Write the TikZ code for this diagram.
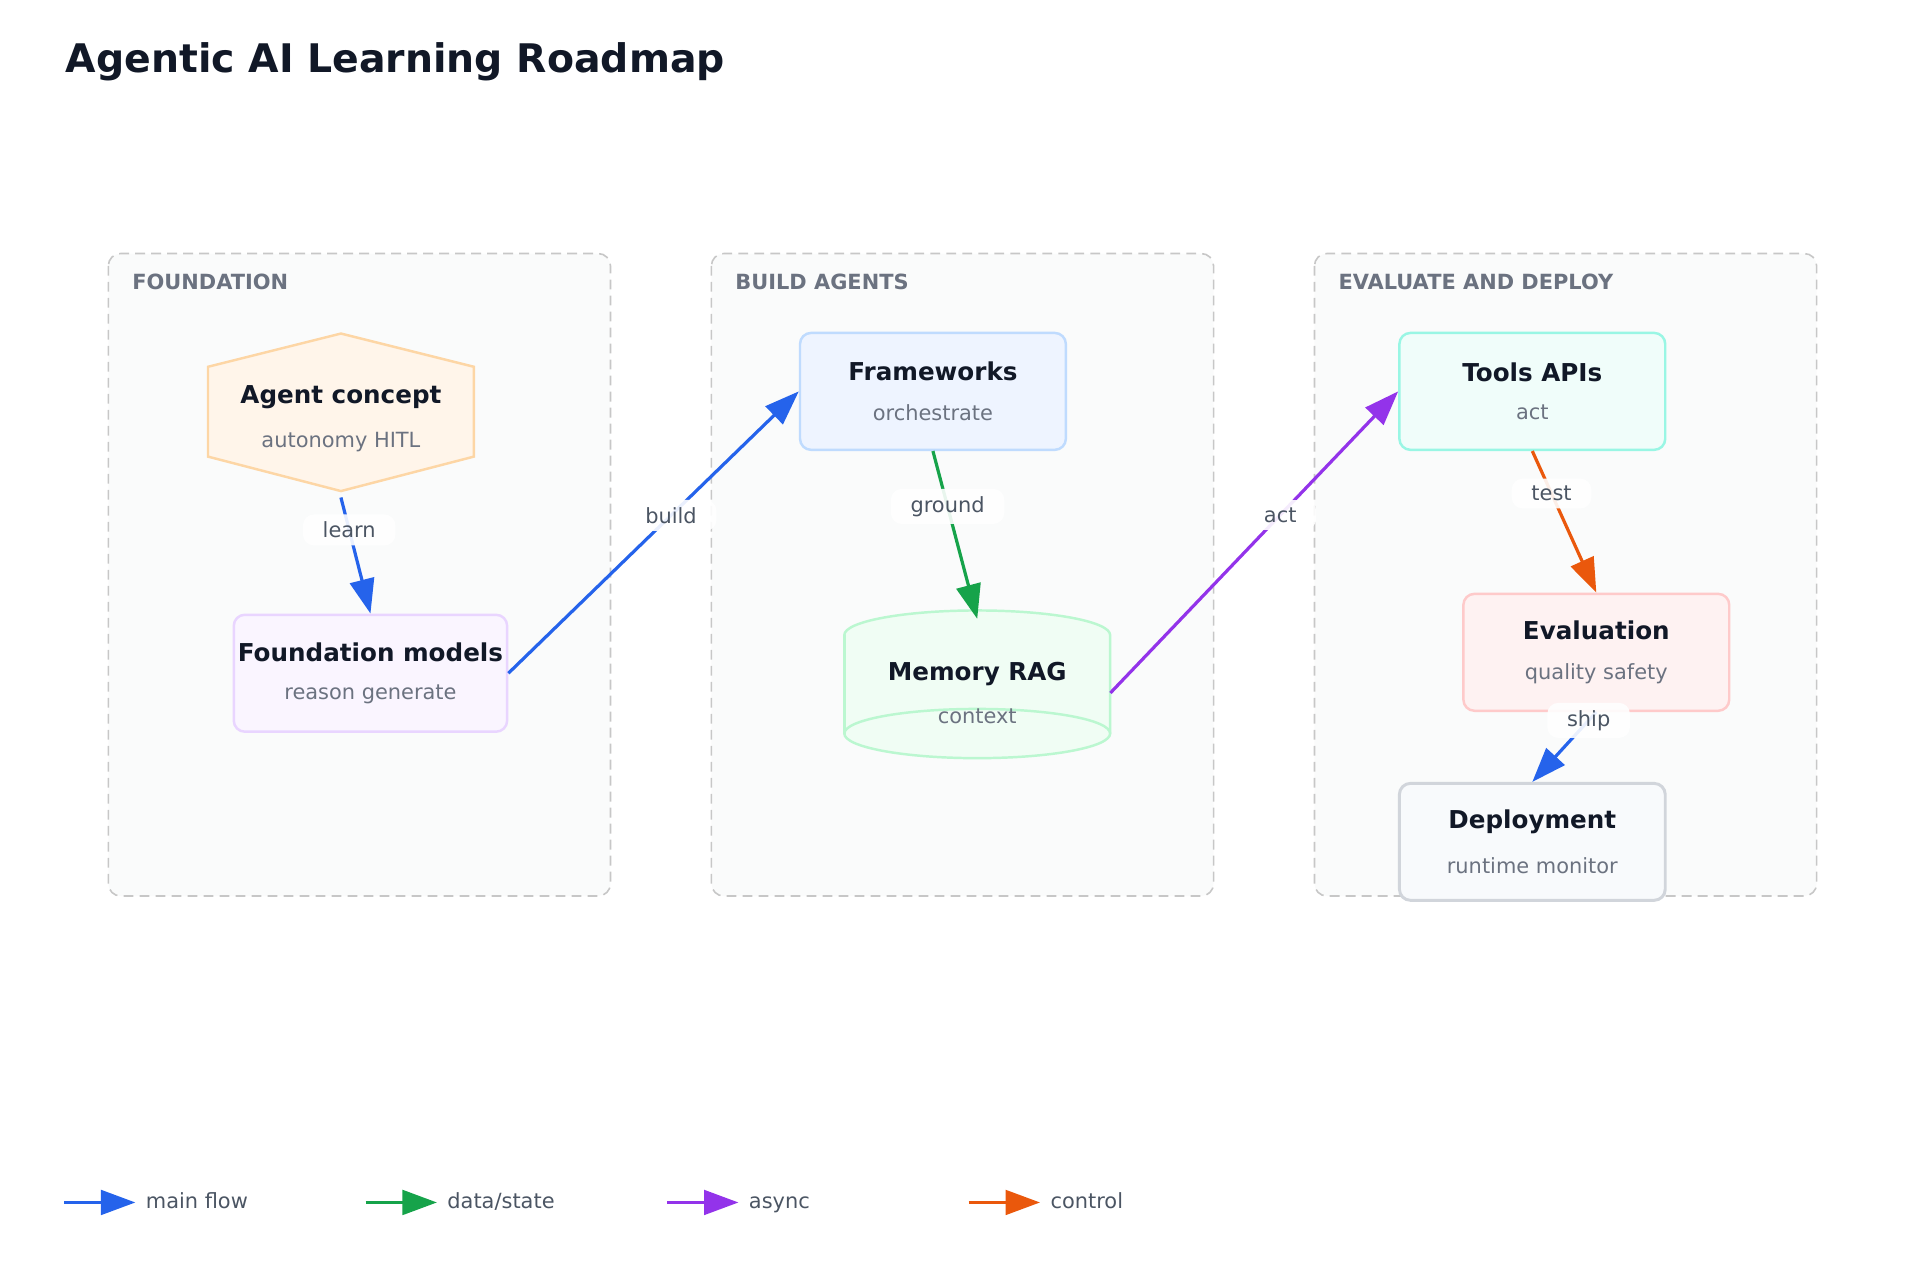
\documentclass[tikz,border=0pt]{standalone}
\usepackage{fontspec}
\setmainfont{DejaVu Sans}
\usepackage{xcolor}
\usetikzlibrary{arrows.meta,positioning,shapes.geometric}
\definecolor{ink}{HTML}{111827}
\definecolor{muted}{HTML}{6B7280}
\definecolor{sub}{HTML}{4B5563}
\definecolor{mainc}{HTML}{2563EB}
\definecolor{datac}{HTML}{16A34A}
\definecolor{asyncc}{HTML}{9333EA}
\definecolor{ctrlc}{HTML}{EA580C}
\definecolor{fwfill}{HTML}{EEF4FF}
\definecolor{fwdraw}{HTML}{BFDBFE}
\definecolor{tlfill}{HTML}{F0FDFA}
\definecolor{tldraw}{HTML}{99F6E4}
\definecolor{fmfill}{HTML}{FAF5FF}
\definecolor{fmdraw}{HTML}{E9D5FF}
\definecolor{evfill}{HTML}{FEF2F2}
\definecolor{evdraw}{HTML}{FECACA}
\definecolor{dpfill}{HTML}{F8FAFC}
\definecolor{dpdraw}{HTML}{D1D5DB}
\definecolor{mmfill}{HTML}{F0FDF4}
\definecolor{mmdraw}{HTML}{BBF7D0}
\definecolor{hxfill}{HTML}{FFF5EA}
\definecolor{hxdraw}{HTML}{FDD6A5}
\definecolor{grfill}{HTML}{FAFBFB}
\newcommand{\ttl}[1]{{\fontsize{20}{24}\selectfont\bfseries #1}}
\newcommand{\sbt}[1]{{\fontsize{17}{20}\selectfont\color{muted}#1}}
\begin{document}
\begin{tikzpicture}[
    x=1pt, y=-1pt,
    group/.style={draw=black!22, dash pattern=on 8pt off 5pt, line width=1.3pt, fill=grfill, rounded corners=10pt},
    grouplabel/.style={anchor=west, text=muted, font=\fontsize{17}{20}\selectfont\bfseries},
    box/.style={rectangle, rounded corners=9pt, minimum width=216pt, minimum height=95pt, line width=2pt, align=center, text=ink},
    ghost/.style={minimum width=216pt, minimum height=#1, inner sep=0pt},
    arrow/.style={line width=2.6pt, -{Triangle[length=28pt, width=20pt]}},
    elabel/.style={fill=white, fill opacity=0.9, text opacity=1, rounded corners=9pt, text=sub, inner xsep=16pt, inner ysep=6pt, font=\fontsize{17}{20}\selectfont}
]
\useasboundingbox (0,0) rectangle (1560,1040);
\node (title) [anchor=west, text=ink, font=\fontsize{32}{36}\selectfont\bfseries] at (50,50) {Agentic AI Learning Roadmap};

% groups
\draw [group] (88,206) rectangle (496,728);
\draw [group] (578,206) rectangle (986,728);
\draw [group] (1068,206) rectangle (1476,728);
\node (g1) [grouplabel] at (104,229) {FOUNDATION};
\node (g2) [grouplabel] at (594,229) {BUILD AGENTS};
\node (g3) [grouplabel] at (1084,229) {EVALUATE AND DEPLOY};

% hexagon
\draw [fill=hxfill, draw=hxdraw, line width=2pt] (277,271) -- (385,298) -- (385,371) -- (277,399) -- (169,371) -- (169,298) -- cycle;
\node (agent) [ghost=128pt, align=center, text=ink] at (277,340) {\ttl{Agent concept}\\[18pt]\sbt{autonomy HITL}};

\node (fm) [box, fill=fmfill, draw=fmdraw] at (301,547) {\ttl{Foundation models}\\[18pt]\sbt{reason generate}};
\node (fw) [box, fill=fwfill, draw=fwdraw] at (758,318) {\ttl{Frameworks}\\[18pt]\sbt{orchestrate}};
\node (tools) [box, fill=tlfill, draw=tldraw] at (1245,318) {\ttl{Tools APIs}\\[18pt]\sbt{act}};
\node (eval) [box, fill=evfill, draw=evdraw] at (1297,530) {\ttl{Evaluation}\\[18pt]\sbt{quality safety}};
\node (dep) [box, fill=dpfill, draw=dpdraw, line width=2.4pt] at (1245,684) {\ttl{Deployment}\\[18pt]\sbt{runtime monitor}};

% cylinder
\fill [mmfill] (686,516) rectangle (902,596);
\fill [mmfill] (794,596) ellipse [x radius=108pt, y radius=20pt];
\fill [mmfill] (794,516) ellipse [x radius=108pt, y radius=20pt];
\draw [mmdraw, line width=2pt] (686,516) arc [start angle=180, end angle=0, x radius=108pt, y radius=20pt] -- (902,596);
\draw [mmdraw, line width=2pt] (686,516) -- (686,596);
\draw [mmdraw, line width=2pt] (794,596) ellipse [x radius=108pt, y radius=20pt];
\node (mem) [ghost=120pt, align=center, text=ink] at (794,563) {\ttl{Memory RAG}\\[18pt]\sbt{context}};

% connectors
\draw [arrow, mainc] (agent.south) -- (fm.north) node (lblearn) [elabel, pos=0.28] {learn};
\draw [arrow, mainc] (fm.east) -- (fw.west) node (lblbuild) [elabel, pos=0.56] {build};
\draw [arrow, datac] (fw.south) -- (mem.north) node (lblground) [elabel, pos=0.33] {ground};
\draw [arrow, asyncc] (mem.east) -- (tools.west) node (lblact) [elabel, pos=0.59] {act};
\draw [arrow, ctrlc] (tools.south) -- (eval.north) node (lbltest) [elabel, pos=0.3] {test};
\draw [arrow, mainc] (eval.south) -- (dep.north) node (lblship) [elabel, pos=0.12] {ship};

% legend
\foreach \lx/\col/\txt [count=\i] in {52/mainc/main flow, 297/datac/data\slash state, 542/asyncc/async, 787/ctrlc/control}{
  \coordinate (ls\i) at (\lx,977);
  \coordinate (le\i) at (\lx+58,977);
  \draw [arrow, \col] (ls\i) -- (le\i);
  \node (lt\i) [anchor=west, text=sub, font=\fontsize{17}{20}\selectfont] at (\lx+63,977) {\vphantom{fy}\txt};
}
\end{tikzpicture}
\end{document}
